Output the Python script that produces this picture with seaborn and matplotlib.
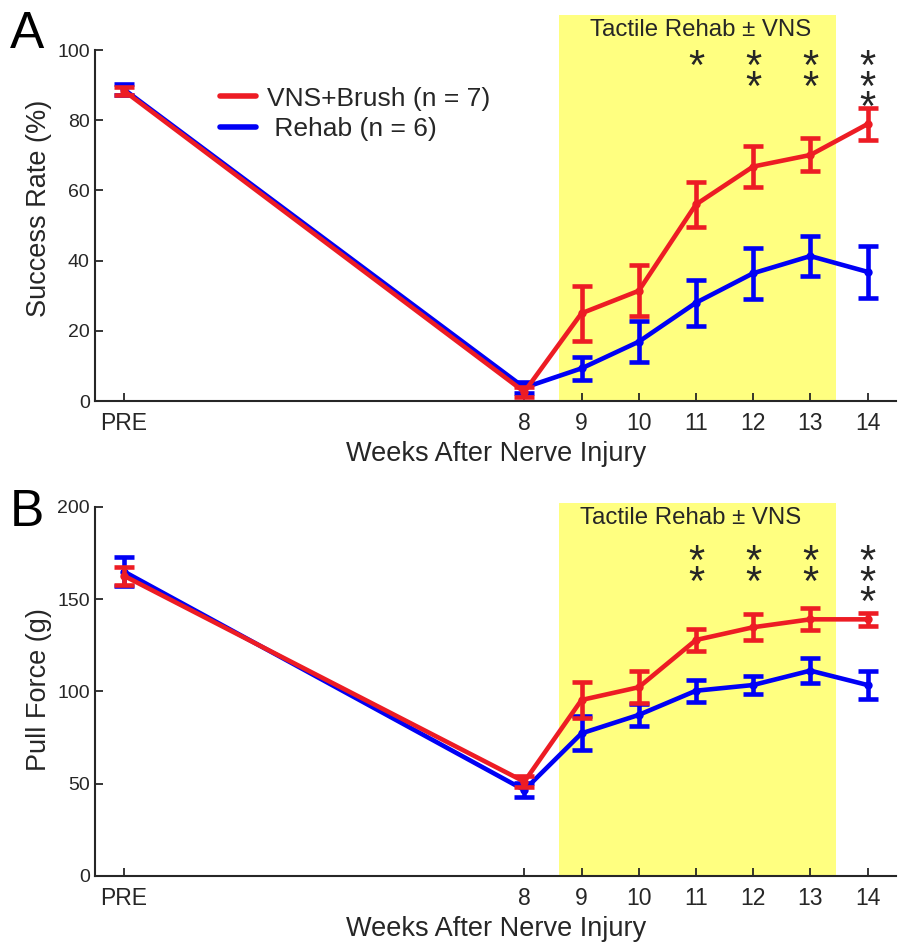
import matplotlib
matplotlib.use("Agg")
import matplotlib.pyplot as plt
import seaborn as sns
import pandas as pd
from matplotlib.lines import Line2D

# ---------------- data ----------------
weeks = [1, 8, 9, 10, 11, 12, 13, 14]
week_labels = ["PRE", "8", "9", "10", "11", "12", "13", "14"]
groups = ["VNS+Brush (n = 7)", " Rehab (n = 6)"]

# Panel A: success rate (%)
vns_sr = [88.4, 2.6, 25.0, 31.4, 56.0, 66.8, 70.1, 78.9]
vns_sr_err = [1.2, 1.5, 7.9, 7.3, 6.3, 5.9, 4.7, 4.5]
rehab_sr = [88.8, 3.8, 9.3, 16.9, 28.0, 36.4, 41.3, 36.8]
rehab_sr_err = [1.5, 1.5, 3.2, 5.9, 6.5, 7.3, 5.7, 7.5]

# Panel B: pull force (g)
vns_pf = [162.7, 51.1, 95.4, 102.3, 127.9, 134.8, 139.1, 139.1]
vns_pf_err = [5.0, 3.0, 10.0, 8.7, 6.0, 7.0, 6.0, 3.6]
rehab_pf = [165.0, 46.6, 77.3, 87.3, 100.4, 103.5, 111.3, 103.5]
rehab_pf_err = [7.7, 4.0, 9.2, 6.0, 6.0, 4.7, 6.6, 7.7]

# significance stars (week -> number of stars)
star_weeks = [11, 12, 13, 14]
stars_A = [1, 2, 2, 3]
stars_B = [2, 2, 2, 3]

rehab_window = (8.6, 13.45)
window_label = "Tactile Rehab \u00b1 VNS"

RED = "#ED1C24"
BLUE = "#0000F5"
YELLOW = "#FFFF80"
DARK = "#262626"

sns.set_theme(style="ticks")
plt.rcParams["font.family"] = ["Liberation Sans", "DejaVu Sans"]

fig = plt.figure(figsize=(9.16, 9.46), dpi=100)
axA = fig.add_axes([0.1041, 0.5761, 0.8742, 0.4081])
axB = fig.add_axes([0.1041, 0.0740, 0.8742, 0.3940])


def panel(ax, vns, vns_err, reh, reh_err, ylim, ytop, yticks, ylabel,
          nstars, star_top, label_xy):
    ax.axvspan(*rehab_window, color=YELLOW, lw=0, zorder=0)
    df = pd.DataFrame({
        "week": weeks * 2,
        "value": reh + vns,
        "group": [groups[1]] * len(weeks) + [groups[0]] * len(weeks),
    })
    sns.lineplot(data=df, x="week", y="value", hue="group",
                 hue_order=[groups[1], groups[0]],
                 palette={groups[0]: RED, groups[1]: BLUE},
                 lw=3.3, marker="o", markersize=6, markeredgewidth=0,
                 errorbar=None, legend=False, ax=ax)
    for ln, z in zip(ax.lines, [2.6, 3.6]):
        ln.set_zorder(z)
    ax.errorbar(weeks, reh, yerr=reh_err, fmt="none", ecolor=BLUE,
                elinewidth=3.3, capsize=7, capthick=3.3, zorder=2.5)
    ax.errorbar(weeks, vns, yerr=vns_err, fmt="none", ecolor=RED,
                elinewidth=3.3, capsize=7, capthick=3.3, zorder=3.5)

    ax.set_xlim(0.5, 14.5)
    ax.set_ylim(*ylim)
    ax.set_xticks(weeks, week_labels)
    ax.set_yticks(yticks)
    for s in ["top", "right"]:
        ax.spines[s].set_visible(False)
    ax.spines["left"].set_bounds(0, ytop)
    for s in ["left", "bottom"]:
        ax.spines[s].set_linewidth(1.5)
        ax.spines[s].set_color(DARK)
    ax.tick_params(axis="both", direction="in", length=6, width=1.3,
                   color=DARK, labelcolor=DARK)
    ax.tick_params(axis="x", labelsize=16.5, pad=8)
    ax.tick_params(axis="y", labelsize=14, pad=4)
    ax.set_xlabel("Weeks After Nerve Injury", fontsize=19.5, color=DARK,
                  labelpad=4)
    ax.set_ylabel(ylabel, fontsize=19.5, color=DARK, labelpad=4)

    ax.text(label_xy[0], label_xy[1], window_label, fontsize=17.3,
            color=DARK, ha="center", va="center")
    for wk, n in zip(star_weeks, nstars):
        ax.text(wk, star_top, "\n".join(["*"] * n), fontsize=30,
                color=DARK, ha="center", va="top", linespacing=0.375)


panel(axA, vns_sr, vns_sr_err, rehab_sr, rehab_sr_err, (0, 110), 100,
      [0, 20, 40, 60, 80, 100], "Success Rate (%)", stars_A, 100.6,
      (11.09, 105.7))
panel(axB, vns_pf, vns_pf_err, rehab_pf, rehab_pf_err, (0, 202), 200,
      [0, 50, 100, 150, 200], "Pull Force (g)", stars_B, 180.4,
      (10.9, 194))

handles = [Line2D([], [], color=RED, lw=4), Line2D([], [], color=BLUE, lw=4)]
axA.legend(handles, groups, loc="upper left", bbox_to_anchor=(0.1556, 0.8145),
           frameon=False, fontsize=19, handlelength=1.35, handletextpad=0.45,
           labelspacing=0.25, borderpad=0, borderaxespad=0,
           labelcolor=DARK)

fig.text(10 / 916, 1 - 48 / 946, "A", fontsize=37, color="black",
         va="baseline")
fig.text(10 / 916, 1 - 526 / 946, "B", fontsize=37, color="black",
         va="baseline")

fig.savefig("out.png", dpi=100)
